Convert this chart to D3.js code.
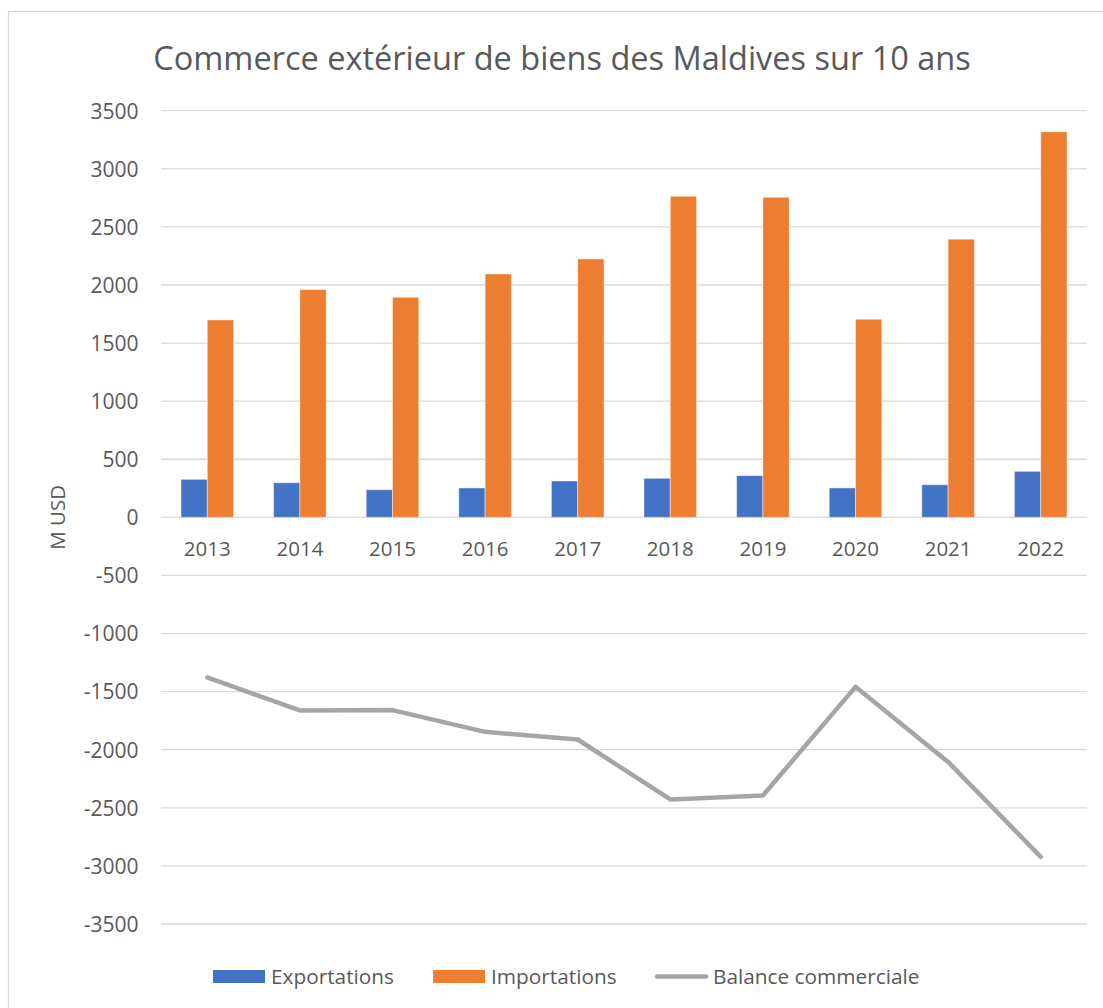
<!DOCTYPE html>
<html><head><meta charset="utf-8">
<script src="https://cdn.jsdelivr.net/npm/d3@7"></script>
<style>body{margin:0;background:#fff;} text{font-family:"Open Sans", Lato, sans-serif;}</style>
</head><body>
<svg id="c" width="1103" height="1008"></svg>
<script>
const years = ["2013","2014","2015","2016","2017","2018","2019","2020","2021","2022"];
const exportations = [327, 298, 238, 253, 313, 336, 359, 253, 281, 396];
const importations = [1699, 1960, 1894, 2095, 2224, 2764, 2755, 1705, 2394, 3318];
const balance = [-1378, -1662, -1659, -1846, -1912, -2428, -2394, -1459, -2105, -2922];
const yTicks = [3500,3000,2500,2000,1500,1000,500,0,-500,-1000,-1500,-2000,-2500,-3000,-3500];
const seriesNames = ["Exportations","Importations","Balance commerciale"];
const colors = ["#4472C4","#ED7D31","#A5A5A5"];
const FONT = "'Open Sans', Lato, sans-serif";

const svg = d3.select("#c");
svg.append("rect").attr("x",8.5).attr("y",11.5).attr("width",1103).attr("height",1008)
  .attr("fill","#fff").attr("stroke","#D9D9D9").attr("stroke-width",1.3);

const L=161, R=1087, T=110.7, B=924;
const y = d3.scaleLinear().domain([-3500,3500]).range([B,T]);
const x = d3.scaleBand().domain(years).range([L,R]).paddingInner(0.432).paddingOuter(0.216);
const xs = d3.scaleBand().domain([0,1]).range([0,x.bandwidth()]);

svg.append("g").selectAll("line").data(yTicks).join("line")
  .attr("x1",L).attr("x2",R).attr("y1",d=>y(d)).attr("y2",d=>y(d))
  .attr("stroke","#D9D9D9").attr("stroke-width",1.3);

const yAxis = d3.axisLeft(y).tickValues(yTicks).tickSize(0).tickPadding(0).tickFormat(d=>String(d));
const ya = svg.append("g").attr("transform",`translate(${138.5},0)`).call(yAxis);
ya.select(".domain").remove();
ya.selectAll("text").attr("fill","#595959").style("font-size","21px").style("font-family",FONT).attr("dy","0.35em");

const data = years.map((yr,i)=>({yr, vals:[exportations[i], importations[i]]}));
const g = svg.append("g");
data.forEach(d=>{
  d.vals.forEach((v,k)=>{
    g.append("rect").attr("x",x(d.yr)+xs(k)).attr("width",xs.bandwidth())
      .attr("y",y(Math.max(0,v))).attr("height",Math.abs(y(v)-y(0)))
      .attr("fill",colors[k]).attr("stroke","rgba(255,255,255,0.45)").attr("stroke-width",1);
  });
});

const xAxis = d3.axisBottom(x).tickSize(0).tickPadding(0);
const xa = svg.append("g").attr("transform",`translate(0,${549})`).call(xAxis);
xa.select(".domain").remove();
xa.selectAll("text").attr("fill","#595959").style("font-size","20.5px").style("font-family",FONT).attr("dy","0.35em");

const line = d3.line().x((d,i)=>x(years[i])+x.bandwidth()/2).y(d=>y(d));
svg.append("path").datum(balance).attr("d",line).attr("fill","none")
  .attr("stroke",colors[2]).attr("stroke-width",4.5).attr("stroke-linecap","round").attr("stroke-linejoin","round");

svg.append("text").attr("x",562).attr("y",69.5).attr("text-anchor","middle")
  .attr("fill","#595959").style("font-size","32.5px").text("Commerce extérieur de biens des Maldives sur 10 ans");

svg.append("text").attr("transform",`translate(65,${(T+B)/2}) rotate(-90)`).attr("text-anchor","middle")
  .attr("fill","#595959").style("font-size","20.5px").text("M USD");

const leg = [{x:213,t:"rect"},{x:433,t:"rect"},{x:655,t:"line"}];
leg.forEach((l,i)=>{
  if(l.t==="rect") svg.append("rect").attr("x",l.x).attr("y",970).attr("width",52).attr("height",13).attr("fill",colors[i]);
  else svg.append("line").attr("x1",l.x+2).attr("x2",l.x+51).attr("y1",976.5).attr("y2",976.5).attr("stroke",colors[i]).attr("stroke-width",4.5).attr("stroke-linecap","round");
  svg.append("text").attr("x",l.x+58).attr("y",976.5).attr("dy","0.35em").attr("fill","#595959").style("font-size","20.8px").text(seriesNames[i]);
});
</script>
</body></html>
